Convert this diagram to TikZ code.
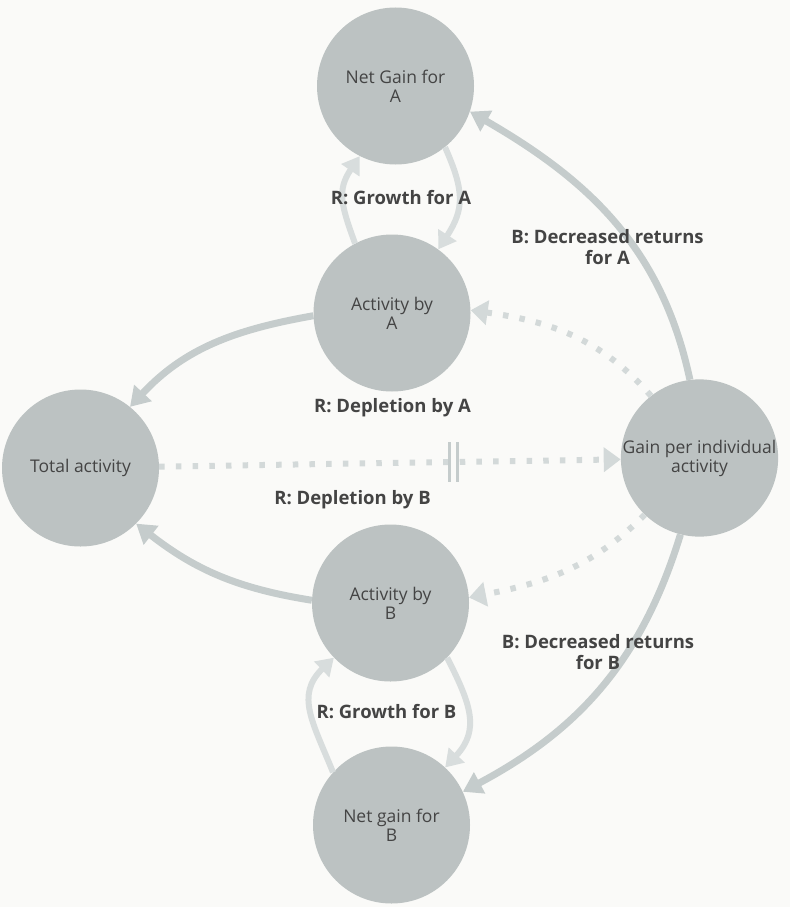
\documentclass[tikz,border=0pt]{standalone}
\usepackage{fontspec}
\setmainfont{Open Sans}
\usetikzlibrary{arrows.meta}
\definecolor{bgc}{HTML}{FAFAF8}
\definecolor{circ}{HTML}{BCC2C2}
\definecolor{txt}{HTML}{444444}
\definecolor{solidc}{HTML}{C5CCCC}
\definecolor{lightc}{HTML}{D8DDDD}
\definecolor{dotc}{HTML}{D3D9D9}
\tikzset{
  stock/.style={circle,fill=circ,minimum size=157pt,inner sep=0pt,align=center,
    text=txt,font=\fontsize{17.5}{19}\selectfont},
  looplabel/.style={text=txt,font=\fontsize{18.5}{20.5}\selectfont\bfseries,align=center},
  solidarrow/.style={draw=solidc,line width=7pt,-{Triangle[length=19pt,width=23pt]}},
  growarrow/.style={draw=lightc,line width=6pt,-{Triangle[length=17pt,width=21pt]},looseness=1.2},
  dotarrow/.style={draw=dotc,line width=6pt,dash pattern=on 5.5pt off 11.2pt,
    -{Triangle[length=17pt,width=24pt]}},
}
\begin{document}
\begin{tikzpicture}[x=1pt,y=1pt]
\fill[bgc] (0,0) rectangle (790,-907);
\useasboundingbox (0,0) rectangle (790,-907);

\node[stock] (neta) at (395.5,-86) {Net Gain for\\A};
\node[stock] (acta) at (392,-313) {Activity by\\A};
\node[stock] (total) at (80.5,-468) {Total activity};
\node[stock] (gain) at (699.5,-458) {Gain per individual\\activity};
\node[stock] (actb) at (390.5,-603) {Activity by\\B};
\node[stock] (netb) at (391.5,-825) {Net gain for\\B};

% balancing loops
\draw[solidarrow] (gain.97) to[out=102,in=-30] (neta.-19);
\draw[solidarrow] (gain.-104) to[out=-107,in=28] (netb.25);

% growth loops
\draw[growarrow] (acta.118) to[out=110,in=-124] (neta.-117);
\draw[growarrow] (neta.-51) to[out=-66,in=57] (acta.54);
\draw[growarrow] (actb.-44) to[out=-63,in=47] (netb.47);
\draw[growarrow] (netb.138) to[out=112,in=-136] (actb.-136);

% depletion
\draw[solidarrow] (acta.182) to[out=190,in=47] (total.51);
\draw[solidarrow] (actb.178) to[out=171,in=-38] (total.-45);

% dotted
\draw[dotarrow] (total.1.5) -- coordinate[pos=0.638] (delay) (gain.181.5);
\draw[draw=solidc,line width=3pt] ([xshift=-4pt,yshift=20pt]delay) -- ([xshift=-4pt,yshift=-20pt]delay);
\draw[draw=solidc,line width=3pt] ([xshift=4pt,yshift=20pt]delay) -- ([xshift=4pt,yshift=-20pt]delay);
\draw[dotarrow] (gain.128) to[out=131,in=-8] (acta.2);
\draw[dotarrow] (gain.-134) to[out=225,in=11] (actb.4);

% labels
\node[looplabel] (lga) at (401,-198) {R: Growth for A};
\node[looplabel] (lda) at (607.5,-247) {B: Decreased returns\\for A};
\node[looplabel] (ldepa) at (392.5,-408) {R: Depletion by A};
\node[looplabel] (ldepb) at (352.5,-500) {R: Depletion by B};
\node[looplabel] (ldb) at (598,-652) {B: Decreased returns\\for B};
\node[looplabel] (lgb) at (386.5,-712) {R: Growth for B};
\end{tikzpicture}
\end{document}
